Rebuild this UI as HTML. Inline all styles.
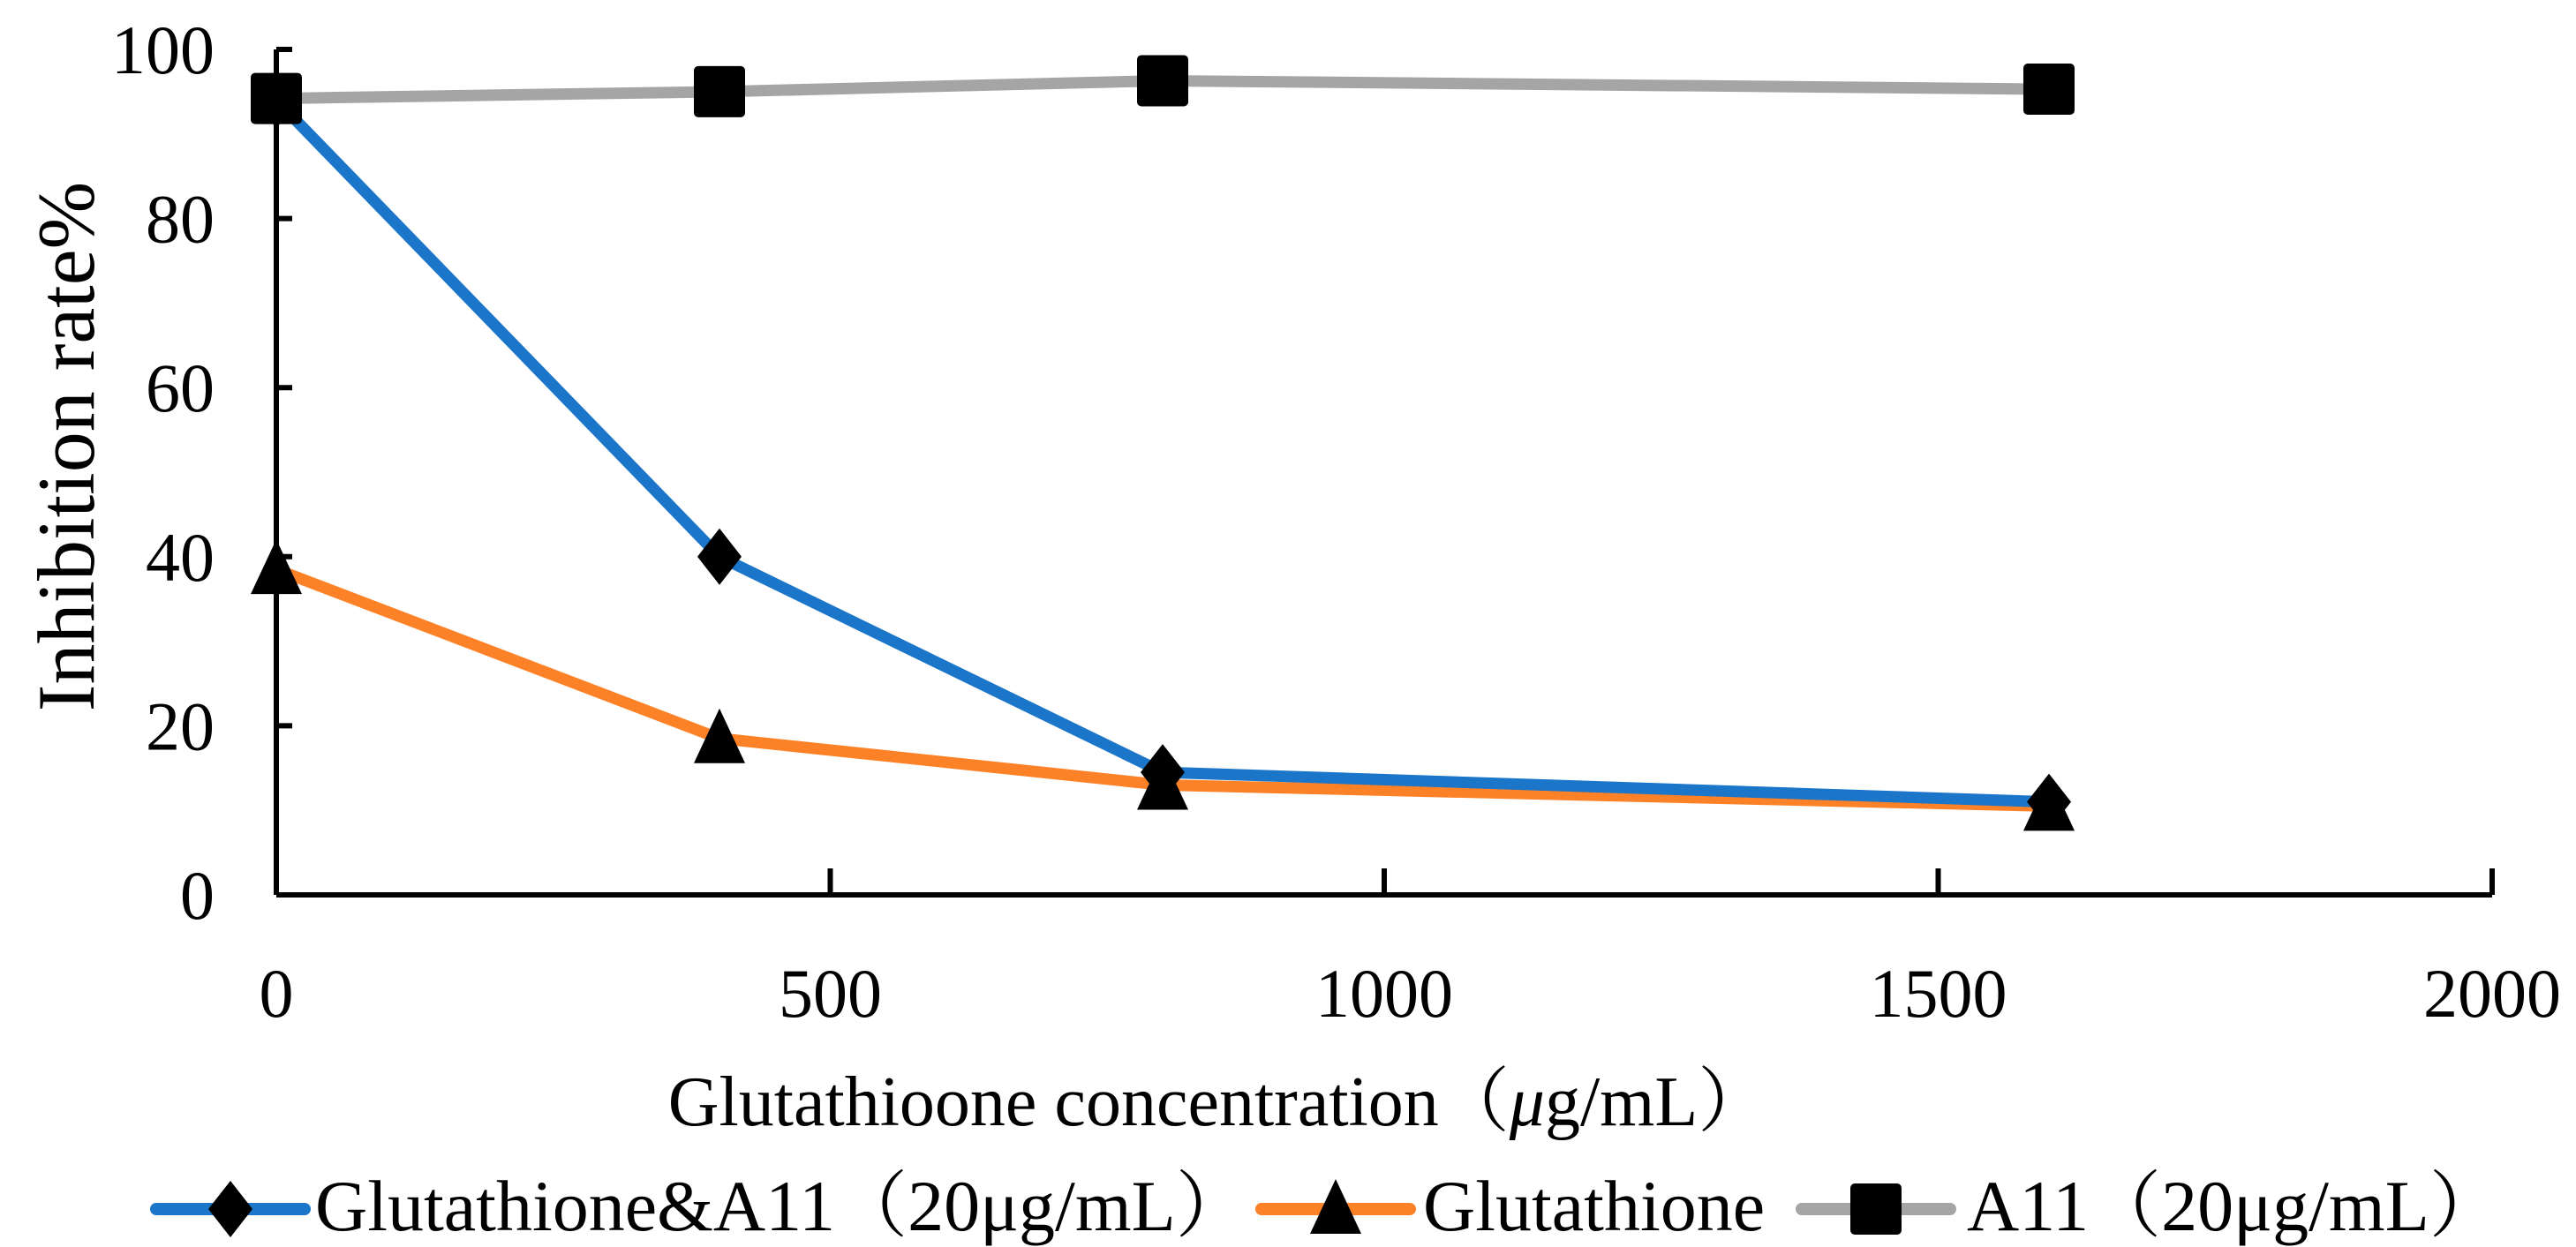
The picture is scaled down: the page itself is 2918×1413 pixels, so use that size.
<!DOCTYPE html>
<html><head><meta charset="utf-8"><style>
html,body{margin:0;padding:0;background:#fff;}
svg{display:block;font-family:"Liberation Serif","Noto Serif CJK SC",serif;}
</style></head><body>
<svg id="chart" width="2918" height="1413" viewBox="0 0 2918 1413" xmlns="http://www.w3.org/2000/svg">
<g id="axes"></g>
<g id="series"></g>
<text x="0" y="0" font-size="92" text-anchor="middle" transform="translate(106,506) rotate(-90)">Inhibition rate%</text>
<text x="1380" y="1275" font-size="80" text-anchor="middle">Glutathioone concentration（<tspan font-style="italic">μ</tspan>g/mL）</text>
<g id="legend"></g>
</svg>
<script>
const xValues = [0, 400, 800, 1600];
const seriesNames = ["Glutathione&A11（20μg/mL）", "Glutathione", "A11（20μg/mL）"];
const blueValues = [94, 40, 14.5, 11];
const orangeValues = [38.5, 18.5, 13, 10.5];
const grayValues = [94.2, 95, 96.3, 95.3];
const xTicks = [0, 500, 1000, 1500, 2000];
const yTicks = [0, 20, 40, 60, 80, 100];

const NS = "http://www.w3.org/2000/svg";
const X0 = 313, X1 = 2823, Y0 = 1014, Y1 = 56;
const sx = v => X0 + (v / 2000) * (X1 - X0);
const sy = v => Y0 - (v / 100) * (Y0 - Y1);
function mk(tag, attrs, parent) {
  const e = document.createElementNS(NS, tag);
  for (const k in attrs) e.setAttribute(k, attrs[k]);
  parent.appendChild(e);
  return e;
}
const axes = document.getElementById('axes');
let a = mk('line', {x1: X0, y1: Y1, x2: X0, y2: Y0, stroke: '#000', 'stroke-width': 6}, axes);


a = mk('line', {x1: X0, y1: Y0, x2: X1, y2: Y0, stroke: '#000', 'stroke-width': 6}, axes);


yTicks.forEach(t => {
  const l = mk('line', {x1: X0, y1: sy(t), x2: X0 + 18, y2: sy(t), stroke: '#000', 'stroke-width': 6}, axes);
  
  
  const tx = mk('text', {x: X0 - 70, y: sy(t) + 27, 'font-size': 78, 'text-anchor': 'end'}, axes);
  tx.textContent = t;
  
  
});
xTicks.forEach(t => {
  const l = mk('line', {x1: sx(t), y1: Y0, x2: sx(t), y2: Y0 - 30, stroke: '#000', 'stroke-width': 6}, axes);
  
  
  const tx = mk('text', {x: sx(t), y: 1152, 'font-size': 78, 'text-anchor': 'middle'}, axes);
  tx.textContent = t;
  
  
});
function marker(kind, cx, cy, parent) {
  let m;
  if (kind === 'diamond') m = mk('polygon', {points: `${cx},${cy-32} ${cx+25},${cy} ${cx},${cy+32} ${cx-25},${cy}`, fill: '#000'}, parent);
  else if (kind === 'triangle') m = mk('polygon', {points: `${cx},${cy-34} ${cx+29},${cy+28} ${cx-29},${cy+28}`, fill: '#000'}, parent);
  else m = mk('rect', {x: cx - 29, y: cy - 29, width: 58, height: 58, rx: 5, fill: '#000'}, parent);
  return m;
}
const sg = document.getElementById('series');
const defs = [
  {vals: grayValues, color: '#a5a5a5', mk: 'square', name: 'series-a11'},
  {vals: orangeValues, color: '#fd8127', mk: 'triangle', name: 'series-glutathione'},
  {vals: blueValues, color: '#1b75c9', mk: 'diamond', name: 'series-glutathione-a11'}
];
defs.forEach(d => {
  const p = mk('polyline', {points: d.vals.map((v, i) => sx(xValues[i]) + ',' + sy(v)).join(' '), fill: 'none', stroke: d.color, 'stroke-width': 13, 'stroke-linejoin': 'round'}, sg);
  
  
});
defs.forEach(d => {
  d.vals.forEach((v, i) => {
    const m = marker(d.mk, sx(xValues[i]), sy(v), sg);
    
    
  });
});
const lg = document.getElementById('legend');
const legendDefs = [
  {color: '#1b75c9', mk: 'diamond', lx: 177, tx: 357},
  {color: '#fd8127', mk: 'triangle', lx: 1429, tx: 1612},
  {color: '#a5a5a5', mk: 'square', lx: 2041, tx: 2228}
];
legendDefs.forEach((d, i) => {
  const ly = 1370;
  const l = mk('line', {x1: d.lx, y1: ly, x2: d.lx + 168, y2: ly, stroke: d.color, 'stroke-width': 14, 'stroke-linecap': 'round'}, lg);
  
  
  const m = marker(d.mk, d.lx + 84, ly, lg);
  
  
  const t = mk('text', {x: d.tx, y: 1394, 'font-size': 82}, lg);
  t.textContent = seriesNames[i];
  
  
});
</script>
</body></html>
